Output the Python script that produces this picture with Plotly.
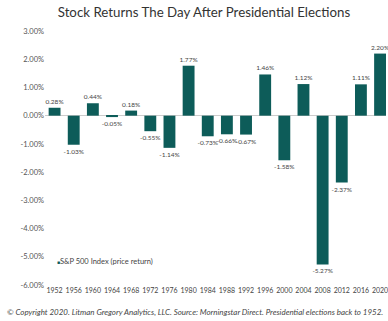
import plotly.graph_objects as go

years = ["1952", "1956", "1960", "1964", "1968", "1972", "1976", "1980", "1984",
         "1988", "1992", "1996", "2000", "2004", "2008", "2012", "2016", "2020"]
returns = [0.28, -1.03, 0.44, -0.05, 0.18, -0.55, -1.14, 1.77, -0.73,
           -0.66, -0.67, 1.46, -1.58, 1.12, -5.27, -2.37, 1.11, 2.20]
series_name = "S&P 500 Index (price return)"
title = "Stock Returns The Day After Presidential Elections"
footer = ("© Copyright 2020. Litman Gregory Analytics, LLC. Source: Morningstar Direct. "
          "Presidential elections back to 1952.")
ytick_vals = [3, 2, 1, 0, -1, -2, -3, -4, -5, -6]
ytick_text = [f"{v:.2f}%" for v in ytick_vals]

teal = "#0d5c59"
font = "Lato, 'Open Sans', sans-serif"

fig = go.Figure()
fig.add_trace(go.Bar(
    x=list(range(len(years))), y=returns, name=series_name,
    marker=dict(color=teal, line=dict(width=0)),
    width=0.62,
    text=[f"{v:.2f}%" for v in returns],
    textposition="outside",
    textangle=0,
    constraintext="none",
    textfont=dict(size=6.5, color="#444", family=font),
    cliponaxis=False,
    showlegend=False,
))

fig.update_layout(
    width=388, height=321,
    margin=dict(l=45, r=0, t=31, b=36),
    paper_bgcolor="white", plot_bgcolor="white",
    font=dict(family=font, color="#555"),
    title=dict(text=title, x=204 / 388, xanchor="center", y=1 - 12 / 321,
               yanchor="middle", yref="container",
               font=dict(size=13.3, color="#333", family=font)),
    xaxis=dict(tickmode="array", tickvals=list(range(len(years))), ticktext=years,
               range=[-0.5, 17.31], showgrid=False, zeroline=False, showline=False,
               ticks="", tickfont=dict(size=7, color="#444"), tickangle=0,
               ticklabeloverflow="allow"),
    yaxis=dict(tickmode="array", tickvals=ytick_vals, ticktext=ytick_text,
               range=[-6, 3], showgrid=False, zeroline=True, zerolinecolor="#cccccc",
               zerolinewidth=1, showline=False, ticks="",
               tickfont=dict(size=7.5, color="#555")),
    bargap=0.38,
    uniformtext=dict(mode=False),
    annotations=[
        dict(text=f"<span style='color:{teal};font-size:5px'>■</span>{series_name}",
             xref="paper", yref="y", x=0.03, y=-5.15, xanchor="left", yanchor="middle",
             showarrow=False, font=dict(size=7.5, color="#444", family=font)),
        dict(text=f"<i>{footer}</i>", xref="paper", yref="paper",
             x=-40 / 343, y=-(312 - 285) / 254, xanchor="left", yanchor="middle",
             showarrow=False, font=dict(size=7.95, color="#444", family=font)),
    ],
)

fig.write_html("out.html")
